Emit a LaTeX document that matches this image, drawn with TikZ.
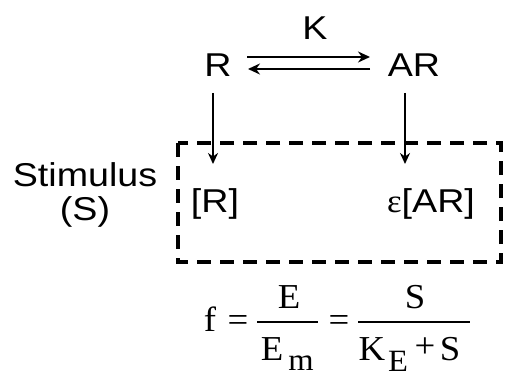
\documentclass[tikz,border=0pt]{standalone}
\usepackage{fontspec}
\setmainfont{Liberation Sans}[FakeStretch=1.14]
\newfontfamily\tms{Liberation Serif}[FakeStretch=1.05]
\usetikzlibrary{arrows.meta}
\begin{document}
\begin{tikzpicture}[x=1pt,y=-1pt,
  lbl/.style={anchor=base,inner sep=0pt,font=\fontsize{33}{36}\selectfont},
  mth/.style={anchor=base,inner sep=0pt,font=\fontsize{35}{38}\selectfont\tms},
  sub/.style={anchor=base,inner sep=0pt,font=\fontsize{31}{34}\selectfont\tms},
  harr/.style={line width=2.6pt,-{Stealth[length=12pt,width=11pt]}},
  varr/.style={line width=2pt,-{Stealth[length=11pt,width=10pt]}},
  dashbox/.style={line width=4pt,dash pattern=on 14pt off 9pt},
  fbar/.style={line width=1.8pt}]
\useasboundingbox (0,0) rectangle (505,377);
% top reaction
\node[lbl] (K) at (315,40) {K};
\node[lbl] (R) at (218,77) {R};
\node[lbl] (AR) at (414,77) {AR};
\coordinate (fwA) at (247,57);
\coordinate (fwB) at (370,57);
\coordinate (bwA) at (370,69);
\coordinate (bwB) at (248,69);
\draw[harr] (fwA) -- (fwB);
\draw[harr] (bwA) -- (bwB);
% box contents
\node[lbl] (stim) at (85,186) {Stimulus};
\node[lbl] (S) at (85,220) {(S)};
\node[lbl] (Rc) at (215,212) {[R]};
\node[lbl] (ARc) at (431,212) {{\tms ε}[AR]};
\coordinate (rA) at (213,93);
\coordinate (rB) at (213,164);
\coordinate (aA) at (405,93);
\coordinate (aB) at (405,164);
\draw[varr] (rA) -- (rB);
\draw[varr] (aA) -- (aB);
\draw[dashbox] (178,143) rectangle (501,262);
% formula
\node[mth] (f) at (210,331) {f};
\node[mth] (eq1) at (238,331) {=};
\coordinate (b1A) at (257,322);
\coordinate (b1B) at (318,322);
\draw[fbar] (b1A) -- (b1B);
\node[mth] (En) at (289,308) {E};
\node[mth] (Ed) at (272,360) {E};
\node[sub] (m) at (301,370) {m};
\node[mth] (eq2) at (339,331) {=};
\coordinate (b2A) at (358,322);
\coordinate (b2B) at (470,322);
\draw[fbar] (b2A) -- (b2B);
\node[mth] (Sn) at (415,308) {S};
\node[mth] (Kd) at (372,360) {K};
\node[sub] (Es) at (398,371) {E};
\node[mth] (plus) at (425,357) {+};
\node[mth] (Sd) at (450,360) {S};
\end{tikzpicture}
\end{document}
